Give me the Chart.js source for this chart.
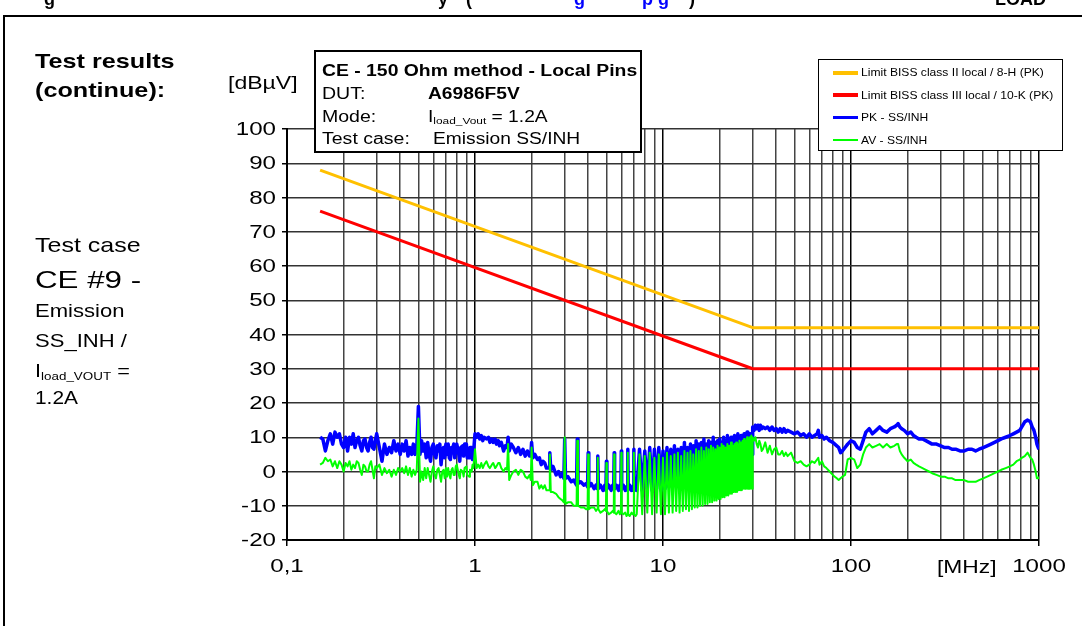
<!DOCTYPE html>
<html>
<head>
<meta charset="utf-8">
<script src="https://cdn.jsdelivr.net/npm/chart.js@4.4.1/dist/chart.umd.min.js"></script>
<style>
  body { margin: 0; background: #fff; font-family: Arial, "Liberation Sans", sans-serif; }
  #page { position: relative; width: 1082px; height: 626px; overflow: hidden; }
  #chart { position: absolute; left: 0; top: 0; }
  .t { position: absolute; white-space: nowrap; line-height: 1; transform-origin: 0 0; color: #000; }
  .b { font-weight: bold; }
  #frame { position: absolute; left: 3px; top: 15px; right: -10px; bottom: -10px; border-left: 2px solid #000; border-top: 2px solid #000; }
  #infoBox { position: absolute; left: 314px; top: 50px; width: 324px; height: 99px; border: 2px solid #000; background: #fff; }
  #legendBox { position: absolute; left: 818px; top: 59px; width: 243px; height: 90px; border: 1px solid #000; background: #fff; }
  .sw { position: absolute; left: 14px; width: 25px; }
  sub { font-size: 0.62em; vertical-align: -0.25em; }
</style>
</head>
<body>
<div id="page">
  <canvas id="chart" width="1082" height="626"></canvas>
  <div id="frame"></div>

  <!-- clipped page header -->
  <div class="t b" style="left:44px; top:-10px; font-size:18px;">g</div>
  <div class="t b" style="left:438px; top:-10px; font-size:18px;">y</div>
  <div class="t b" style="left:466px; top:-10px; font-size:18px;">(</div>
  <div class="t b" style="left:574px; top:-10px; font-size:18px; color:#00f;">g</div>
  <div class="t b" style="left:642px; top:-10px; font-size:18px; color:#00f;">p g</div>
  <div class="t b" style="left:689px; top:-10px; font-size:18px;">)</div>
  <div class="t b" style="left:995px; top:-10px; font-size:18px;">LOAD</div>

  <div class="t b" style="left:35px; top:50px; font-size:21px; transform:scaleX(1.2);">Test results</div>
  <div class="t b" style="left:35px; top:79px; font-size:21px; transform:scaleX(1.2);">(continue):</div>
  <div class="t" style="left:228px; top:74px; font-size:18px; transform:scaleX(1.28);">[dBµV]</div>

  <div class="t" style="left:35px; top:234px; font-size:21px; transform:scaleX(1.19);">Test case</div>
  <div class="t" style="left:35px; top:269px; font-size:23px; transform:scaleX(1.36);">CE #9 -</div>
  <div class="t" style="left:35px; top:301px; font-size:19px; transform:scaleX(1.16);">Emission</div>
  <div class="t" style="left:35px; top:331px; font-size:19px; transform:scaleX(1.16);">SS_INH /</div>
  <div class="t" style="left:35px; top:361px; font-size:19px; transform:scaleX(1.14);">I<sub>load_VOUT</sub> =</div>
  <div class="t" style="left:35px; top:388px; font-size:19px; transform:scaleX(1.1);">1.2A</div>

  <div class="t" style="left:937px; top:557px; font-size:19px; transform:scaleX(1.2);">[MHz]</div>

  <div id="infoBox">
    <div class="t b" style="left:6px; top:11px; font-size:16px; transform:scaleX(1.21);">CE - 150 Ohm method - Local Pins</div>
    <div class="t" style="left:6px; top:34px; font-size:16px; transform:scaleX(1.22);">DUT:</div>
    <div class="t b" style="left:112px; top:34px; font-size:16px; transform:scaleX(1.2);">A6986F5V</div>
    <div class="t" style="left:6px; top:57px; font-size:16px; transform:scaleX(1.22);">Mode:</div>
    <div class="t" style="left:112px; top:57px; font-size:16px; transform:scaleX(1.2);">I<sub>load_Vout</sub> = 1.2A</div>
    <div class="t" style="left:6px; top:79px; font-size:16px; transform:scaleX(1.22);">Test case:</div>
    <div class="t" style="left:117px; top:79px; font-size:16px; transform:scaleX(1.2);">Emission SS/INH</div>
  </div>

  <div id="legendBox">
    <div class="sw" style="top:10.5px; height:4px; background:#ffc000;"></div>
    <div class="t" style="left:42px; top:7px; font-size:11px; transform:scaleX(1.1);">Limit BISS class II local / 8-H (PK)</div>
    <div class="sw" style="top:33px; height:4px; background:#ff0000;"></div>
    <div class="t" style="left:42px; top:29.5px; font-size:11px; transform:scaleX(1.1);">Limit BISS class III local / 10-K (PK)</div>
    <div class="sw" style="top:56px; height:3px; background:#0000ff;"></div>
    <div class="t" style="left:42px; top:52px; font-size:11px; transform:scaleX(1.1);">PK - SS/INH</div>
    <div class="sw" style="top:79px; height:2px; background:#00ff00;"></div>
    <div class="t" style="left:42px; top:74.5px; font-size:11px; transform:scaleX(1.1);">AV - SS/INH</div>
  </div>
</div>

<script>
// axis ticks
const xTicks = [0.1, 1, 10, 100, 1000];
const xTickLabels = ["0,1", "1", "10", "100", "1000"];
const yTicks = [-20, -10, 0, 10, 20, 30, 40, 50, 60, 70, 80, 90, 100];

// limit lines (MHz / dBuV)
const limitFreq = [0.15, 30, 1000];
const limitClass2 = [88, 42, 42];
const limitClass3 = [76, 30, 30];

// measurement 0.15 - 7.25 MHz
const freqLow = [
  0.15, 0.155, 0.16, 0.165, 0.17, 0.175, 0.18, 0.185, 0.19, 0.195,
  0.2, 0.205, 0.21, 0.215, 0.22, 0.225, 0.23, 0.235, 0.24, 0.245,
  0.25, 0.255, 0.26, 0.265, 0.27, 0.275, 0.28, 0.285, 0.29, 0.295,
  0.3, 0.31, 0.32, 0.33, 0.34, 0.35, 0.36, 0.37, 0.38, 0.39,
  0.4, 0.41, 0.42, 0.43, 0.44, 0.45, 0.46, 0.47, 0.48, 0.49,
  0.5, 0.51, 0.52, 0.53, 0.54, 0.55, 0.56, 0.57, 0.58, 0.59,
  0.6, 0.61, 0.62, 0.63, 0.64, 0.65, 0.66, 0.67, 0.68, 0.69,
  0.7, 0.71, 0.72, 0.73, 0.74, 0.75, 0.76, 0.77, 0.78, 0.79,
  0.8, 0.82, 0.83, 0.84, 0.86, 0.87, 0.88, 0.9, 0.91, 0.93,
  0.94, 0.96, 0.97, 0.98,
  1.0, 1.02, 1.04, 1.06, 1.08, 1.1, 1.12, 1.15, 1.18, 1.2,
  1.23, 1.25, 1.28, 1.3, 1.33, 1.35, 1.38, 1.42, 1.45, 1.48,
  1.5, 1.52, 1.56, 1.6, 1.65, 1.7, 1.75, 1.8, 1.85, 1.9,
  1.95, 1.98, 2.0, 2.03, 2.08, 2.15, 2.2, 2.25, 2.3, 2.35,
  2.4, 2.48, 2.5, 2.53, 2.6, 2.7, 2.78, 2.85, 2.92, 2.97,
  3.0, 3.03, 3.12, 3.25, 3.35, 3.47, 3.5, 3.53, 3.65, 3.8,
  3.9, 3.97, 4.0, 4.03, 4.15, 4.3, 4.4, 4.47, 4.5, 4.53,
  4.65, 4.8, 4.9, 4.97, 5.0, 5.03, 5.15, 5.3, 5.4, 5.47,
  5.5, 5.53, 5.65, 5.8, 5.9, 5.97, 6.0, 6.03, 6.15, 6.3,
  6.4, 6.47, 6.5, 6.53, 6.65, 6.8, 6.9, 6.97, 7.0, 7.03,
  7.15, 7.25];
const pkLow = [
  10, 9.5, 6, 9, 11, 8, 11.5, 10, 11, 8,
  7, 10, 6, 10, 8, 11, 7, 9, 10, 7.5,
  6, 9, 9.5, 7, 6, 8.5, 10, 7, 6.5, 9,
  11, 7, 3, 8, 5, 7, 5.5, 9, 6, 8,
  5, 8, 6, 9, 4.5, 7, 5, 8, 5, 7,
  19, 5, 9, 6, 8, 4, 8.5, 5, 3, 7,
  8, 5, 4, 7.5, 6, 8, 2, 6, 7, 4,
  8, 5, 8, 4, 3.5, 7, 5.5, 8, 4, 7,
  8, 5, 3, 7, 7.5, 4.5, 8, 8, 4, 4,
  7, 7, 3.5, 5,
  11, 10, 11, 9.5, 10.5, 9, 10, 9.5, 10, 8.5,
  9.5, 8.5, 9.5, 8, 9, 7.5, 8.5, 6, 7.5, 7,
  10, 6, 8, 7, 5.5, 7, 5, 6.5, 4.5, 6,
  4.5, 4.5, 8.5, 4, 5, 3.5, 4, 2, 3, 2.5,
  1, 1, 5.5, 0.5, 1.5, -1, 0, -1.5, -0.5, -2,
  9.5, -2, -1.5, -3, -2.5, -4, 9.5, -3.5, -3, -4,
  -3.5, -4.5, 5.5, -4.5, -3.5, -5, -4, -5, 4.5, -5,
  -4, -5.5, -4, -5.5, 3, -5, -4, -5.5, -4, -5,
  5.5, -5, -4, -5.5, -4, -5.5, 6, -5, -4, -5.5,
  -4.5, -5.5, 6.5, -5, -4, -5.5, -4.5, -5.5, 6.5, -5.5,
  -4.5, -5.5];
const avLow = [
  2, 2.5, 4, 3, 3.5, 1.5, 3, 1, 3, 2,
  0, 2.5, 1.5, 3, 0.5, 2, 1, 3, 2.5, 0.5,
  -1, 2, 1.5, 0, 0, 2, 3, 0.5, -2, 1.5,
  1, 2, -1, 1, -0.5, 0.5, -1.5, 0.5, -1, 1,
  0, 1, -0.5, 1.5, -1, 1, -1.5, 0.5, -1, 0.5,
  15.5, -3, 0, -2.5, 1, -2, 1, -1, -3, 0,
  1.5, -1, -2, 0.5, 1, -1, -3, 0, 0.5, -2,
  1, -1.5, 1, -1, -2, 0.5, 1, -1, -1, 1.5,
  2, -1, -2, 0.5, 0, -1.5, 1, 1.5, -1, -1.5,
  0.5, 0, 2, 1,
  6.5, 1, 2, 1, 2.5, 1, 2, 3, 1.5, 1,
  2, 2.5, 1, 1.5, 2.5, 2.5, 1, 0, 1, 0.5,
  8, -2.5, -1, 0, 0.5, -1, 0.5, 0, -1.5, -2,
  -1, -2.5, 7, -4, -3, -3, -5, -4, -5, -4,
  -5.5, -5.5, 5, -6, -6, -6.5, -7.5, -8, -8.5, -9,
  10, -9.5, -9, -9, -10, -10, 9, -10, -10.5, -10.5,
  -11, -11, 5, -11, -10.5, -10.5, -11.5, -11, 4, -11,
  -12, -11.5, -11, -11.5, 2.5, -11.5, -12.5, -12, -11.5, -12,
  5, -12, -12.5, -11.5, -12.5, -12, 5.5, -12, -12.5, -12,
  -13, -12.5, 5.5, -12.5, -13, -12, -12.5, -12.5, 5.5, -12.5,
  -13, -12.5];

// measurement 7.5 - 30 MHz (harmonic comb)
const freqMid = [7.5, 7.75, 8, 8.25, 8.5, 8.75, 9, 9.25, 9.5, 9.75, 10, 10.25, 10.5, 10.75, 11, 11.25, 11.5, 11.75, 12, 12.25,
  12.5, 12.75, 13, 13.25, 13.5, 13.75, 14, 14.25, 14.5, 14.75, 15, 15.25, 15.5, 15.75, 16, 16.25, 16.5, 16.75, 17, 17.25,
  17.5, 17.75, 18, 18.25, 18.5, 18.75, 19, 19.25, 19.5, 19.75, 20, 20.25, 20.5, 20.75, 21, 21.25, 21.5, 21.75, 22, 22.25,
  22.5, 22.75, 23, 23.25, 23.5, 23.75, 24, 24.25, 24.5, 24.75, 25, 25.25, 25.5, 25.75, 26, 26.25, 26.5, 26.75, 27, 27.25,
  27.5, 27.75, 28, 28.25, 28.5, 28.75, 29, 29.25, 29.5, 29.75, 30];
const pkMid = [6.5, -5.5, 6, -5, 7, -5.5, 6.5, -5, 7, -5.5, 6, -5, 7, -4.5, 6.5, -4, 7.5, -4, 6.5, -3.5,
  7, -3, 8.5, -3, 7, -2.5, 8, -2.5, 7.5, -2, 9, -2, 8, -1.5, 8.5, -1.5, 9.5, -1, 8, -1,
  9, -0.5, 8.5, 0, 10, 0, 8.5, 0.5, 9, 0.5, 9.5, 1, 8.5, 1, 10, 1.5, 9, 1.5, 10.5, 2,
  9, 2, 10, 2.5, 9.5, 2.5, 10.5, 3, 9.5, 3, 11, 3.5, 10, 3.5, 10.5, 4, 10, 4, 11, 4,
  10.5, 4.5, 11.5, 4.5, 10.5, 4.5, 11, 5, 11, 5, 13];
const avMid = [5, -12.5, 4.5, -12, 5.5, -12.5, 4, -12, 5, -12.5, 4, -12.5, 5.5, -12, 4.5, -12, 5, -11.5, 5.5, -12,
  4.5, -11.5, 6, -11, 5.5, -11.5, 6, -11, 5, -10.5, 6.5, -10.5, 6, -10, 7, -10, 6, -9.5, 7, -9.5,
  6.5, -9, 7.5, -9, 7, -8.5, 6.5, -8.5, 7.5, -8, 7, -8, 8, -7.5, 7.5, -7.5, 7, -7, 8, -7,
  7.5, -6.5, 8.5, -6.5, 7.5, -6, 8, -6, 8.5, -6, 8, -5.5, 9, -5.5, 8.5, -5.5, 9, -5, 9.5, -5,
  9, -5, 10, -5, 9.5, -5, 10, -5, 10.5, -5, 10];

// measurement 30 - 1000 MHz
const freqHigh = [
  30.5, 31, 31.5, 32, 32.5, 33, 33.5, 34, 35, 36,
  37, 38, 39, 40, 41, 42, 43, 44, 45, 46,
  48, 50, 52, 54, 56, 58, 60, 62, 64, 66,
  67, 68, 70, 72, 74, 77, 80, 82, 84, 86,
  88, 90, 93, 96, 100, 104, 108, 112, 116, 120,
  125, 130, 136, 142, 148, 155, 162, 170, 175, 178,
  182, 186, 192, 200, 208, 215, 222, 230, 240, 250,
  260, 270, 285, 300, 315, 330, 345, 360, 380, 400,
  420, 440, 460, 480, 505, 530, 555, 580, 605, 630,
  665, 700, 730, 760, 790, 810, 840, 870, 900, 920,
  940, 960, 975, 990, 1000];
const pkHigh = [
  12, 13.5, 12.5, 13.5, 12, 13.5, 12.5, 13, 12.5, 13,
  12, 13, 12, 12.5, 11.5, 12.5, 11.5, 12.5, 11.5, 12,
  11.5, 11, 11.5, 10.5, 11, 10, 11, 10, 10.5, 11,
  12, 10, 10.5, 9.5, 10, 9, 8.5, 8, 7.5, 7,
  5.5, 6, 7, 8, 9, 8.5, 7, 6.5, 9, 11.5,
  12.5, 11, 12, 13, 12, 11.5, 12.5, 13, 13.5, 14,
  13, 12.5, 12, 11, 11.5, 10.5, 10, 9.5, 9.5, 9,
  8.5, 8, 8, 7.5, 7, 7, 6.5, 6.5, 6, 6,
  6.5, 6.5, 6, 6.5, 7, 7.5, 8, 8.5, 9, 9.5,
  10, 10.5, 11, 11.5, 12, 13, 14.5, 15, 14.5, 13,
  12, 10, 8, 7, 6.5];
const avHigh = [
  9, 10, 8, 7, 9, 8, 6, 6.5, 8.5, 5.5,
  7.5, 5, 6.5, 7, 5, 5, 6, 4.5, 5.5, 4.5,
  5.5, 3, 2.5, 3, 2, 1.5, 2, 3, 2.5, 3.5,
  4, 2, 3, 1.5, 1, 0, -1, -1.5, -2, -2.5,
  -2, -1.5, -1, 3.5, 4, 3.5, 1, 2, 5, 7,
  8, 7, 7.5, 8, 7, 8, 7, 7.5, 8, 8,
  6, 5, 4, 3, 3.5, 2.5, 2, 1.5, 1, 0.5,
  0, -0.5, -1, -1.5, -1.5, -2, -2, -2.5, -2.5, -2.5,
  -3, -3, -3, -2.5, -2, -1.5, -1, -0.5, 0, 0.5,
  1, 1.5, 2, 3, 3.5, 4, 4.5, 5.5, 4, 3.5,
  2, 0, -2, -2, -1.5];

const toPoints = (xs, ys) => xs.map((x, i) => ({ x: x, y: ys[i] }));
const freqAll = freqLow.concat(freqMid, freqHigh);
const pkAll = pkLow.concat(pkMid, pkHigh);
const avAll = avLow.concat(avMid, avHigh);

// grid lines at 1..9 of every decade
let gridFreqs = [];
for (let d = 0.1; d < 999; d *= 10) {
    for (let m = 1; m < 10; m++) gridFreqs.push(+(d * m).toPrecision(3));
}
gridFreqs.push(1000);
const isDecade = v => Math.abs(Math.log10(v) - Math.round(Math.log10(v))) < 1e-6;

const TEXT_SX = 1.27;
function drawStretched(ctx, text, x, y, align) {
    ctx.save();
    ctx.translate(x, y);
    ctx.scale(TEXT_SX, 1);
    ctx.textAlign = align;
    ctx.fillText(text, 0, 0);
    ctx.restore();
}

// tick labels, stretched like the source picture
const tickText = {
    id: "tickText",
    afterDraw(chart) {
        const { ctx, scales } = chart;
        ctx.save();
        ctx.font = "19px Arial, 'Liberation Sans'";
        ctx.fillStyle = "#000";
        ctx.textBaseline = "middle";
        yTicks.forEach(v => drawStretched(ctx, String(v), 276, scales.y.getPixelForValue(v) + 1, "right"));
        xTicks.forEach((v, i) => drawStretched(ctx, xTickLabels[i], scales.x.getPixelForValue(v), 567, "center"));
        ctx.restore();
    }
};

new Chart(document.getElementById("chart"), {
    type: "line",
    data: {
        datasets: [
            { label: "Limit BISS class II local / 8-H (PK)", data: toPoints(limitFreq, limitClass2), borderColor: "#ffc000", borderWidth: 3, order: 0 },
            { label: "Limit BISS class III local / 10-K (PK)", data: toPoints(limitFreq, limitClass3), borderColor: "#ff0000", borderWidth: 3, order: 0 },
            { label: "PK - SS/INH", data: toPoints(freqAll, pkAll), borderColor: "#0000ff", borderWidth: 3.5, order: 2 },
            { label: "AV - SS/INH", data: toPoints(freqAll, avAll), borderColor: "#00ff00", borderWidth: 2, order: 1 }
        ]
    },
    options: {
        responsive: false,
        animation: false,
        elements: { point: { radius: 0 }, line: { tension: 0, borderJoinStyle: "round" } },
        layout: { padding: { left: 0, right: 43, top: 129, bottom: 0 } },
        plugins: { legend: { display: false }, title: { display: false }, tooltip: { enabled: false } },
        scales: {
            x: {
                type: "logarithmic",
                min: 0.1,
                max: 1000,
                afterBuildTicks: s => { s.ticks = gridFreqs.map(v => ({ value: v })); },
                afterFit: s => { s.height = 86; },
                ticks: { display: false },
                grid: {
                    color: c => isDecade(c.tick.value) ? "#000" : "#444",
                    lineWidth: 1.5,
                    tickLength: 6,
                    tickColor: c => isDecade(c.tick.value) ? "#000" : "rgba(0,0,0,0)"
                },
                border: { color: "#000", width: 2 }
            },
            y: {
                min: -20,
                max: 100,
                ticks: { display: false, stepSize: 10 },
                afterFit: s => { s.width = 287; },
                grid: { color: "#333", lineWidth: 1.5, tickLength: 5, tickColor: "#000" },
                border: { color: "#000", width: 2 }
            }
        }
    },
    plugins: [tickText]
});
</script>
</body>
</html>
